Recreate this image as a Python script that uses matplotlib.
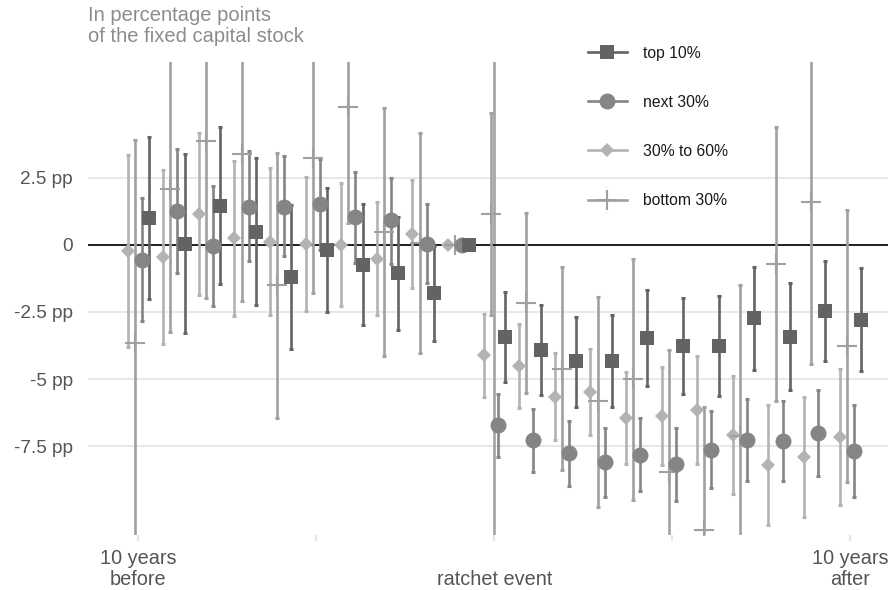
import numpy as np
import matplotlib
matplotlib.use("Agg")
import matplotlib.pyplot as plt
from matplotlib.lines import Line2D

plt.rcParams['font.family'] = ['Liberation Sans', 'DejaVu Sans']

years = np.arange(-10, 11)

# estimates and confidence bounds, year -1 is the reference year
top10_est = [0.99, 0.04, 1.45, 0.48, -1.19, -0.20, -0.74, -1.05, -1.81, 0,
             -3.42, -3.93, -4.34, -4.32, -3.46, -3.78, -3.78, -2.74, -3.42, -2.46, -2.79]
top10_lo = [-2.02, -3.29, -1.46, -2.26, -3.87, -2.51, -2.98, -3.18, -3.57, np.nan,
            -5.09, -5.58, -6.02, -6.02, -5.24, -5.56, -5.61, -4.65, -5.41, -4.31, -4.71]
top10_hi = [4.02, 3.39, 4.39, 3.21, 1.49, 2.11, 1.51, 1.03, -0.05, np.nan,
            -1.75, -2.25, -2.67, -2.61, -1.69, -1.99, -1.92, -0.82, -1.43, -0.62, -0.87]

next30_est = [-0.56, 1.24, -0.05, 1.41, 1.40, 1.53, 1.03, 0.91, 0.02, 0,
              -6.72, -7.28, -7.75, -8.09, -7.82, -8.16, -7.63, -7.27, -7.30, -6.99, -7.67]
next30_lo = [-2.85, -1.05, -2.28, -0.62, -0.43, -0.19, -0.68, -0.71, -1.44, np.nan,
             -7.88, -8.46, -8.96, -9.37, -9.16, -9.55, -9.06, -8.78, -8.78, -8.59, -9.39]
next30_hi = [1.74, 3.55, 2.18, 3.47, 3.29, 3.19, 2.70, 2.49, 1.50, np.nan,
             -5.55, -6.10, -6.55, -6.82, -6.45, -6.80, -6.18, -5.74, -5.81, -5.40, -5.96]

mid30_est = [-0.22, -0.45, 1.15, 0.24, 0.10, 0.02, 0.00, -0.52, 0.40, 0,
             -4.12, -4.53, -5.65, -5.48, -6.45, -6.36, -6.14, -7.07, -8.19, -7.90, -7.17]
mid30_lo = [-3.80, -3.70, -1.86, -2.66, -2.61, -2.46, -2.28, -2.61, -1.61, np.nan,
            -5.65, -6.08, -7.28, -7.07, -8.16, -8.19, -8.16, -9.28, -10.42, -10.12, -9.70]
mid30_hi = [3.35, 2.80, 4.17, 3.10, 2.85, 2.51, 2.31, 1.58, 2.41, np.nan,
            -2.56, -2.95, -4.01, -3.87, -4.75, -4.55, -4.13, -4.90, -5.96, -5.67, -4.62]

bot30_est = [-3.67, 2.08, 3.85, 3.36, -1.51, 3.23, 5.12, 0.47, 0.05, 0,
             1.14, -2.15, -4.62, -5.83, -5.00, -8.44, -10.6, -7.10, -0.71, 1.58, -3.76]
bot30_lo = [-11.2, -3.25, -1.99, -2.11, -6.45, -1.81, 0.81, -4.13, -4.04, np.nan,
            -2.61, -5.52, -8.37, -9.74, -9.50, -13.0, -15.1, -12.7, -5.81, -4.44, -8.81]
bot30_hi = [3.88, 7.4, 9.7, 8.8, 3.41, 8.3, 9.4, 5.09, 4.16, np.nan,
            4.90, 1.20, -0.83, -1.96, -0.52, -3.92, -6.02, -1.49, 4.39, 7.6, 1.29]

# drawing order and dodge
groups = [
    ("30% to 60%", mid30_est, mid30_lo, mid30_hi, -0.3, "D", 7.4, "#b3b3b3"),
    ("bottom 30%", bot30_est, bot30_lo, bot30_hi, -0.1, "+", 14.5, "#a0a0a0"),
    ("next 30%", next30_est, next30_lo, next30_hi, 0.1, "o", 11.5, "#858585"),
    ("top 10%", top10_est, top10_lo, top10_hi, 0.3, "s", 9.6, "#636363"),
]

fig = plt.figure(figsize=(8.88, 5.90), dpi=100)
ax = fig.add_axes([88 / 888, 55 / 590, 800 / 888, 473 / 590])

ax.axvline(0, color="#a3a3a3", lw=1.9, zorder=1)
ax.axhline(0, color="black", lw=1.2, zorder=1.5)

handles = {}
for name, est, lo, hi, off, mk, ms, col in groups:
    est = np.array(est, dtype=float)
    lo = np.array(lo, dtype=float)
    hi = np.array(hi, dtype=float)
    x = years + off
    ok = ~np.isnan(lo)
    ax.errorbar(x[ok], est[ok], yerr=[est[ok] - lo[ok], hi[ok] - est[ok]],
                fmt="none", ecolor=col, elinewidth=1.9, capsize=1.3,
                capthick=2.2, zorder=2)
    mew = 1.5 if mk == "+" else 0
    ax.plot(x, est, linestyle="none", marker=mk, markersize=ms,
            color=col, markeredgewidth=mew, zorder=3)
    handles[name] = Line2D([], [], color=col, lw=1.9, marker=mk,
                           markersize=ms, markeredgewidth=mew)

ax.set_xlim(-11.413, 11.06)
ax.set_ylim(-10.80, 6.80)

ax.set_yticks([2.5, 0, -2.5, -5, -7.5])
ax.set_yticklabels(["2.5 pp", "0", "-2.5 pp", "-5 pp", "-7.5 pp"])
ax.set_xticks([-10, -5, 0, 5, 10])
ax.set_xticklabels(["10 years\nbefore", "", "\nratchet event", "", "10 years\nafter"],
                   linespacing=1.15)
for lab in ax.get_xticklabels():
    lab.set_multialignment("center")

ax.grid(axis="y", color="#e8e8e8", lw=1.5, zorder=0)
ax.set_axisbelow(True)
for s in ax.spines.values():
    s.set_visible(False)
ax.tick_params(axis="y", length=0, pad=11, labelsize=13.7, labelcolor="#555555")
ax.tick_params(axis="x", length=4, width=1.5, color="#e5e5e5", pad=6,
               labelsize=14.3, labelcolor="#555555")

fig.text(88 / 888, 1 - 6 / 590, "In percentage points\nof the fixed capital stock",
         ha="left", va="top", fontsize=14.5, color="#8c8c8c", linespacing=1.15)

order = ["top 10%", "next 30%", "30% to 60%", "bottom 30%"]
fig.legend([handles[n] for n in order], order, loc="upper left",
           bbox_to_anchor=(580 / 888, 1 - 38 / 590), frameon=False,
           fontsize=11.3, handlelength=2.5, handletextpad=1.0,
           labelspacing=2.17, borderpad=0, labelcolor="#1a1a1a")

fig.savefig("out.png", dpi=100)
